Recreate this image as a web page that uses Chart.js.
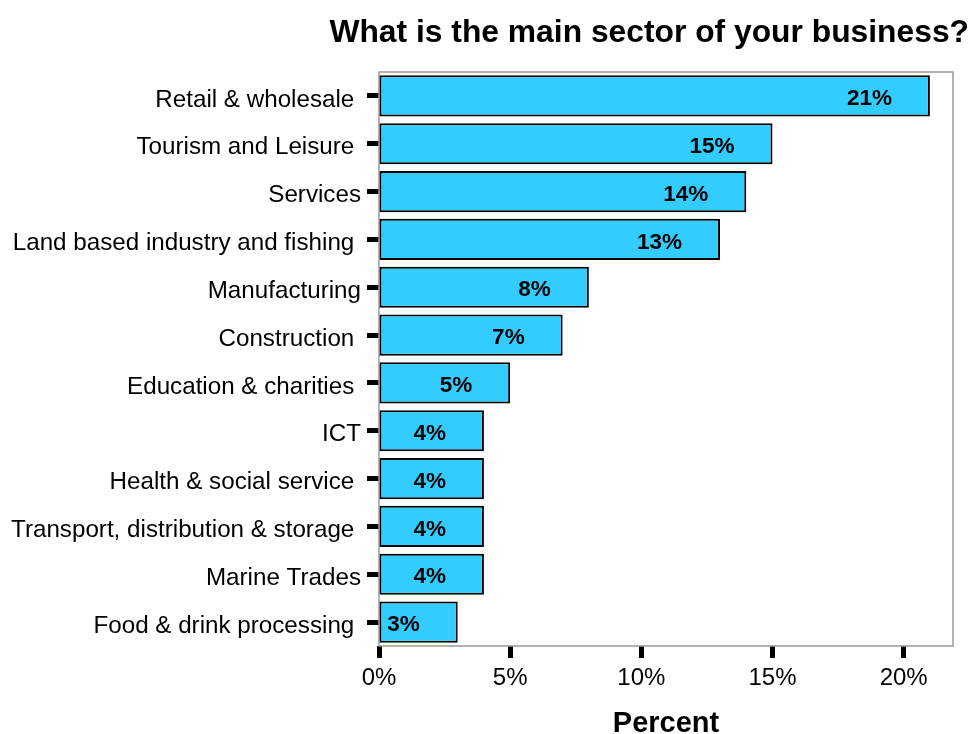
<!DOCTYPE html>
<html>
<head>
<meta charset="utf-8">
<script src="https://cdn.jsdelivr.net/npm/chart.js@4.4.1/dist/chart.umd.min.js"></script>
<style>
  html, body { margin: 0; padding: 0; background: #fff; }
  #wrap { width: 974px; height: 734px; position: relative; }
</style>
</head>
<body>
<div id="wrap"><canvas id="myChart"></canvas></div>
<script>
const chartTitle = 'What is the main sector of your business?';
const sectors = [
    'Retail & wholesale ',
    'Tourism and Leisure ',
    'Services',
    'Land based industry and fishing ',
    'Manufacturing',
    'Construction ',
    'Education & charities ',
    'ICT',
    'Health & social service ',
    'Transport, distribution & storage ',
    'Marine Trades',
    'Food & drink processing '
];
const percents = [21, 15, 14, 13, 8, 7, 5, 4, 4, 4, 4, 3];
const xTicks = [0, 5, 10, 15, 20];

const FONT = "'Liberation Sans', Arial, Helvetica, sans-serif";

// grey box round the plot area
const frame = {
    id: 'frame',
    beforeDatasetsDraw(chart) {
        const {ctx, chartArea: a} = chart;
        ctx.save();
        ctx.strokeStyle = '#9a9a9a';
        ctx.lineWidth = 1.5;
        ctx.strokeRect(a.left, a.top, a.right - a.left, a.bottom - a.top);
        ctx.restore();
    }
};

// bold value labels, right aligned just inside the bar end
const barLabels = {
    id: 'barLabels',
    afterDatasetsDraw(chart) {
        const ctx = chart.ctx;
        const meta = chart.getDatasetMeta(0);
        ctx.save();
        ctx.font = 'bold 22.5px ' + FONT;
        ctx.fillStyle = '#000';
        ctx.textAlign = 'right';
        ctx.textBaseline = 'middle';
        meta.data.forEach((bar, i) => {
            ctx.fillText(percents[i] + '%', bar.x - 38, bar.y + 3);
        });
        ctx.restore();
    }
};

// main title, right side of the canvas
const topTitle = {
    id: 'topTitle',
    afterDraw(chart) {
        const ctx = chart.ctx;
        ctx.save();
        ctx.font = 'bold 31.8px ' + FONT;
        ctx.fillStyle = '#000';
        ctx.textAlign = 'right';
        ctx.textBaseline = 'alphabetic';
        ctx.fillText(chartTitle, chart.width - 5, 42);
        ctx.restore();
    }
};

const ctx = document.getElementById('myChart').getContext('2d');
const myChart = new Chart(ctx, {
    type: 'bar',
    data: {
        labels: sectors,
        datasets: [
            {
                label: 'Percent',
                data: percents,
                backgroundColor: '#33CCFF',
                borderColor: '#000',
                borderWidth: 2,
                borderSkipped: false,
                barPercentage: 0.86,
                categoryPercentage: 1
            }
        ]
    },
    plugins: [frame, barLabels, topTitle],
    options: {
        indexAxis: 'y',
        responsive: true,
        maintainAspectRatio: false,
        animation: false,
        layout: {
            padding: { left: 0, right: 21, top: 72, bottom: 0 }
        },
        plugins: {
            legend: { display: false },
            title: { display: false },
            tooltip: { enabled: false }
        },
        scales: {
            x: {
                type: 'linear',
                min: 0,
                max: 21.88,
                afterBuildTicks(scale) {
                    scale.ticks = xTicks.map(v => ({ value: v }));
                },
                afterFit(scale) {
                    scale.height = 88;
                },
                border: { display: false },
                grid: {
                    drawOnChartArea: false,
                    drawTicks: true,
                    tickLength: 12,
                    tickWidth: 5,
                    tickColor: '#000'
                },
                ticks: {
                    padding: 6,
                    color: '#000',
                    font: { family: FONT, size: 24 },
                    callback: v => v + '%'
                },
                title: {
                    display: true,
                    text: 'Percent',
                    color: '#000',
                    font: { family: FONT, size: 29, weight: 'bold', lineHeight: 0.7 },
                    padding: 0
                }
            },
            y: {
                afterFit(scale) {
                    scale.width = 379;
                },
                border: { display: false },
                grid: {
                    offset: false,
                    drawOnChartArea: false,
                    drawTicks: true,
                    tickLength: 12,
                    tickWidth: 5,
                    tickColor: '#000'
                },
                ticks: {
                    padding: 6,
                    labelOffset: 4,
                    color: '#000',
                    autoSkip: false,
                    font: { family: FONT, size: 24.2 }
                }
            }
        }
    }
});
</script>
</body>
</html>
